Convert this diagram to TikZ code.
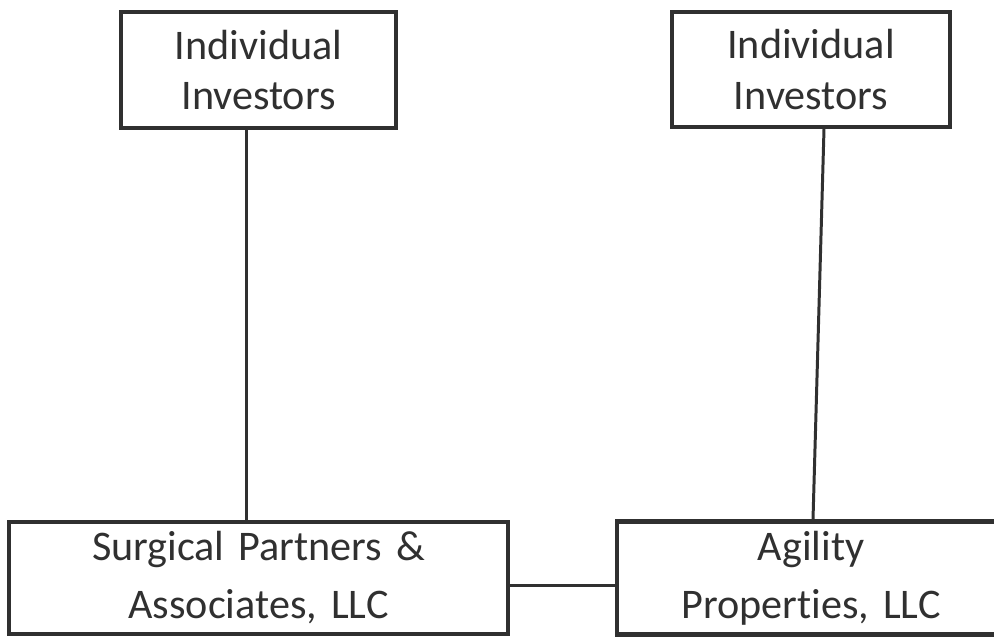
\documentclass[tikz,border=0pt]{standalone}
\usepackage{fontspec}
\setmainfont{Carlito}[Ligatures=NoCommon]
\usetikzlibrary{shapes,arrows,positioning}

\definecolor{inkgray}{HTML}{303030}

\begin{document}
\begin{tikzpicture}[auto, node distance=10.16cm]
	% Define block styles
	\tikzstyle{block} = [rectangle, draw=inkgray, line width=2.3pt, text=inkgray, inner sep=0pt, align=center, font=\fontsize{24}{28.5}\selectfont]
	\tikzstyle{line} = [draw=inkgray, line width=1.7pt, -]

	\useasboundingbox (0,0) rectangle (19.88,12.74);
	\clip (0,0) rectangle (19.88,12.74);

	% Nodes
	\node [block, text width=5.5cm, minimum height=2.32cm] (investors left) at (5.17,11.34) {Individual\\ Investors};
	\node [block, below of=investors left, text width=9.98cm, minimum height=2.24cm, font=\fontsize{24}{33}\selectfont] (surgical partners) {Surgical Partners \&\\ Associates, LLC};
	\node [block, right of=surgical partners, node distance=11.05cm, text width=7.76cm, minimum height=2.26cm, font=\fontsize{24}{33}\selectfont] (agility) {Agility\\ Properties, LLC};
	\node [block, above of=agility, node distance=10.17cm, text width=5.56cm, minimum height=2.3cm] (investors right) {Individual\\ Investors};

	% Connecting lines
	\path [line] ([xshift=-0.24cm]investors left.south) -- ([xshift=-0.24cm]surgical partners.north);
	\path [line] ([xshift=0.26cm]investors right.south) -- ([xshift=0.04cm]agility.north);
	\path [line] ([yshift=-0.16cm]surgical partners.east) -- ([yshift=-0.16cm]agility.west);
\end{tikzpicture}
\end{document}
